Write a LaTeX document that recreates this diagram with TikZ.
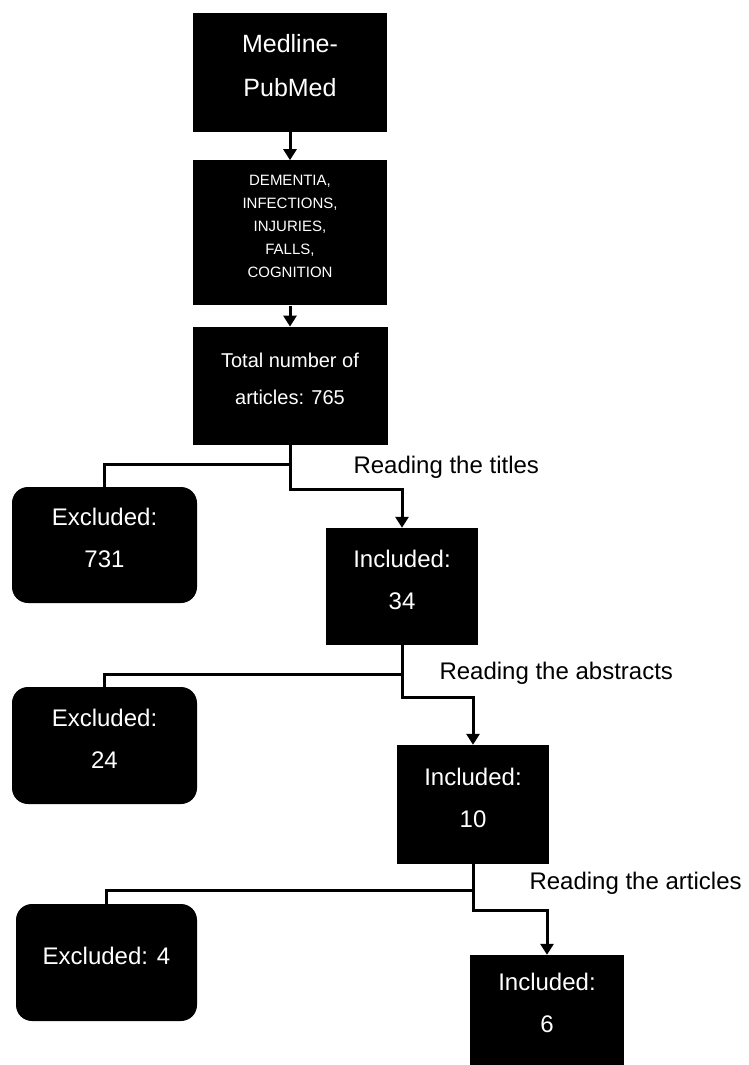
\documentclass[tikz,border=0pt]{standalone}
\usepackage{fontspec}
\setmainfont{Liberation Sans}
\usetikzlibrary{positioning,arrows.meta}

\begin{document}
\begin{tikzpicture}[x=1pt,y=-1pt,node distance=28pt,
  box/.style={fill=black,text=white,align=center,inner sep=0pt,font=\fontsize{24}{42}\selectfont,
    execute at end node={\rule[-14pt]{0pt}{14pt}}},
  roundbox/.style={box,rounded corners=16pt},
  flow/.style={line width=3pt,-{Triangle[width=13pt,length=11pt]}},
  branch/.style={line width=3pt},
  readlabel/.style={anchor=west,font=\fontsize{24}{28}\selectfont}]
  \useasboundingbox (0,0) rectangle (749,1065);
  % search
  \node[box,minimum width=194pt,minimum height=119pt,font=\fontsize{25}{44}\selectfont] (medline) at (290,72.5)
    {Medline-\\PubMed};
  \node[box,below=28pt of medline,minimum width=194pt,minimum height=145pt,font=\fontsize{15}{23}\selectfont] (topics)
    {DEMENTIA,\\INFECTIONS,\\INJURIES,\\FALLS,\\COGNITION};
  \node[box,below=21pt of topics,minimum width=195pt,minimum height=118pt,font=\fontsize{20}{37}\selectfont] (total)
    {Total number of\\articles: 765};
  % screening
  \node[roundbox,minimum width=185pt,minimum height=116pt] (excl1) at (104.5,545) {Excluded:\\731};
  \node[box,minimum width=152pt,minimum height=117pt] (incl1) at (402,586.5) {Included:\\34};
  \node[roundbox,minimum width=185pt,minimum height=117pt] (excl2) at (104.5,745.5) {Excluded:\\24};
  \node[box,minimum width=152pt,minimum height=119pt] (incl2) at (473,804.5) {Included:\\10};
  \node[roundbox,minimum width=181pt,minimum height=117pt] (excl3) at (106.5,962.5) {Excluded: 4};
  \node[box,minimum width=154pt,minimum height=110pt] (incl3) at (547,1010) {Included:\\6};
  \node[readlabel] (titles) at (350,467) {Reading the titles};
  \node[readlabel] (abstracts) at (436,673) {Reading the abstracts};
  \node[readlabel] (articles) at (526,883) {Reading the articles};
  % connectors
  \draw[flow] (medline) -- (topics);
  \draw[flow] (topics) -- (total);
  \draw[branch] (total.south) -- ++(0,19) -| (excl1.north);
  \draw[flow] (total.south) -- ++(0,44) -| (incl1.north);
  \draw[branch] (incl1.south) -- ++(0,29) -| (excl2.north);
  \draw[flow] (incl1.south) -- ++(0,52) -| (incl2.north);
  \draw[branch] (incl2.south) -- ++(0,26) -| (excl3.north);
  \draw[flow] (incl2.south) -- ++(0,46) -| (incl3.north);
\end{tikzpicture}
\end{document}
